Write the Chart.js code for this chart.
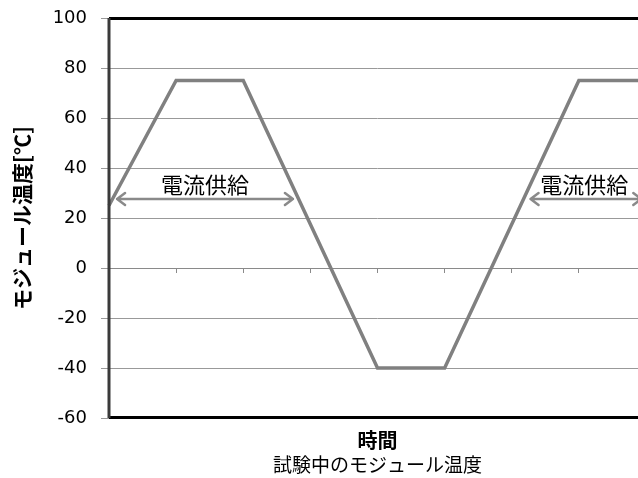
<!DOCTYPE html>
<html>
<head>
<meta charset="utf-8">
<script src="https://cdn.jsdelivr.net/npm/chart.js@4/dist/chart.umd.min.js"></script>
<style>
html,body{margin:0;padding:0;background:#fff;overflow:hidden;width:638px;height:478px;}
#wrap{position:absolute;left:0;top:0;width:756px;height:478px;}
</style>
</head>
<body>
<div id="wrap"><canvas id="c" width="756" height="478"></canvas></div>
<script>
// time points (cycle steps) and module temperature [°C]
const timeSteps = [0, 1, 2, 4, 5, 7, 8];
const temperatures = [25, 75, 75, -40, -40, 75, 75];
const yTicks = [-60, -40, -20, 0, 20, 40, 60, 80, 100];
// current supply annotations: [start, end] in time units, label position
const supplySpans = [[0.12, 2.74], [6.28, 7.93]];
const supplyLevel = 27.6;
const supplyLabelX = [1.43, 7.08];
const supplyLabelY = 33.2;
const supplyLabel = '電流供給';
const yTitle = 'モジュール温度[℃]';
const xTitle = '時間';
const chartTitle = '試験中のモジュール温度';

const JP = '"Noto Sans CJK JP", "DejaVu Sans", sans-serif';

const decor = {
  id: 'decor',
  afterDatasetsDraw(chart) {
    const {ctx, chartArea: a, scales: {x, y}} = chart;
    ctx.save();
    // supply arrows
    ctx.strokeStyle = '#8a8a8a';
    ctx.lineWidth = 2.5;
    ctx.lineCap = 'round';
    ctx.lineJoin = 'round';
    supplySpans.forEach(([s, e]) => {
      const x1 = x.getPixelForValue(s), x2 = x.getPixelForValue(e), yy = y.getPixelForValue(supplyLevel);
      ctx.beginPath();
      ctx.moveTo(x1, yy); ctx.lineTo(x2, yy);
      ctx.moveTo(x1 + 8, yy - 6); ctx.lineTo(x1, yy); ctx.lineTo(x1 + 8, yy + 6);
      ctx.moveTo(x2 - 8, yy - 6); ctx.lineTo(x2, yy); ctx.lineTo(x2 - 8, yy + 6);
      ctx.stroke();
    });
    ctx.fillStyle = '#000';
    ctx.font = '22px ' + JP;
    ctx.textAlign = 'center';
    ctx.textBaseline = 'middle';
    supplyLabelX.forEach(v => {
      ctx.fillText(supplyLabel, x.getPixelForValue(v), y.getPixelForValue(supplyLabelY));
    });
    // frame
    ctx.lineCap = 'butt';
    ctx.strokeStyle = '#000';
    ctx.lineWidth = 3;
    ctx.beginPath();
    ctx.moveTo(a.left, a.top + 0.5); ctx.lineTo(a.right, a.top + 0.5);
    ctx.moveTo(a.left, a.bottom - 0.5); ctx.lineTo(a.right, a.bottom - 0.5);
    ctx.stroke();
    ctx.strokeStyle = '#3a3a3a';
    ctx.beginPath();
    ctx.moveTo(a.left, a.top); ctx.lineTo(a.left, a.bottom);
    ctx.stroke();
    // titles
    const cx = (a.left + a.right) / 2;
    ctx.fillStyle = '#000';
    ctx.font = 'bold 20px ' + JP;
    ctx.fillText(xTitle, cx, a.bottom + 22);
    ctx.font = '19px ' + JP;
    ctx.fillText(chartTitle, cx, a.bottom + 47);
    ctx.translate(22, (a.top + a.bottom) / 2);
    ctx.rotate(-Math.PI / 2);
    ctx.font = 'bold 21px ' + JP;
    ctx.fillText(yTitle, 0, 0);
    ctx.restore();
  }
};

new Chart(document.getElementById('c'), {
  type: 'line',
  data: {
    datasets: [{
      data: timeSteps.map((t, i) => ({x: t, y: temperatures[i]})),
      borderColor: '#808080',
      borderWidth: 3.5,
      pointRadius: 0,
      tension: 0,
      clip: false
    }]
  },
  options: {
    responsive: false,
    animation: false,
    layout: {padding: {left: 0, top: 18, right: 110, bottom: 60}},
    plugins: {legend: {display: false}, tooltip: {enabled: false}},
    scales: {
      x: {
        type: 'linear', min: 0, max: 8,
        position: {y: 0},
        ticks: {display: false, stepSize: 1},
        grid: {drawOnChartArea: false, tickLength: 4, color: '#8a8a8a', lineWidth: 1},
        border: {display: true, color: '#8a8a8a', width: 1}
      },
      y: {
        min: -60, max: 100,
        afterFit(scale) { scale.width = 109; scale.paddingTop = 0; scale.paddingBottom = 0; },
        afterBuildTicks(scale) { scale.ticks = yTicks.map(v => ({value: v})); },
        ticks: {color: '#000', font: {family: '"DejaVu Sans", sans-serif', size: 18}, padding: 14},
        grid: {color: '#999999', lineWidth: 1, tickLength: 8},
        border: {display: false}
      }
    }
  },
  plugins: [decor]
});
</script>
</body>
</html>
